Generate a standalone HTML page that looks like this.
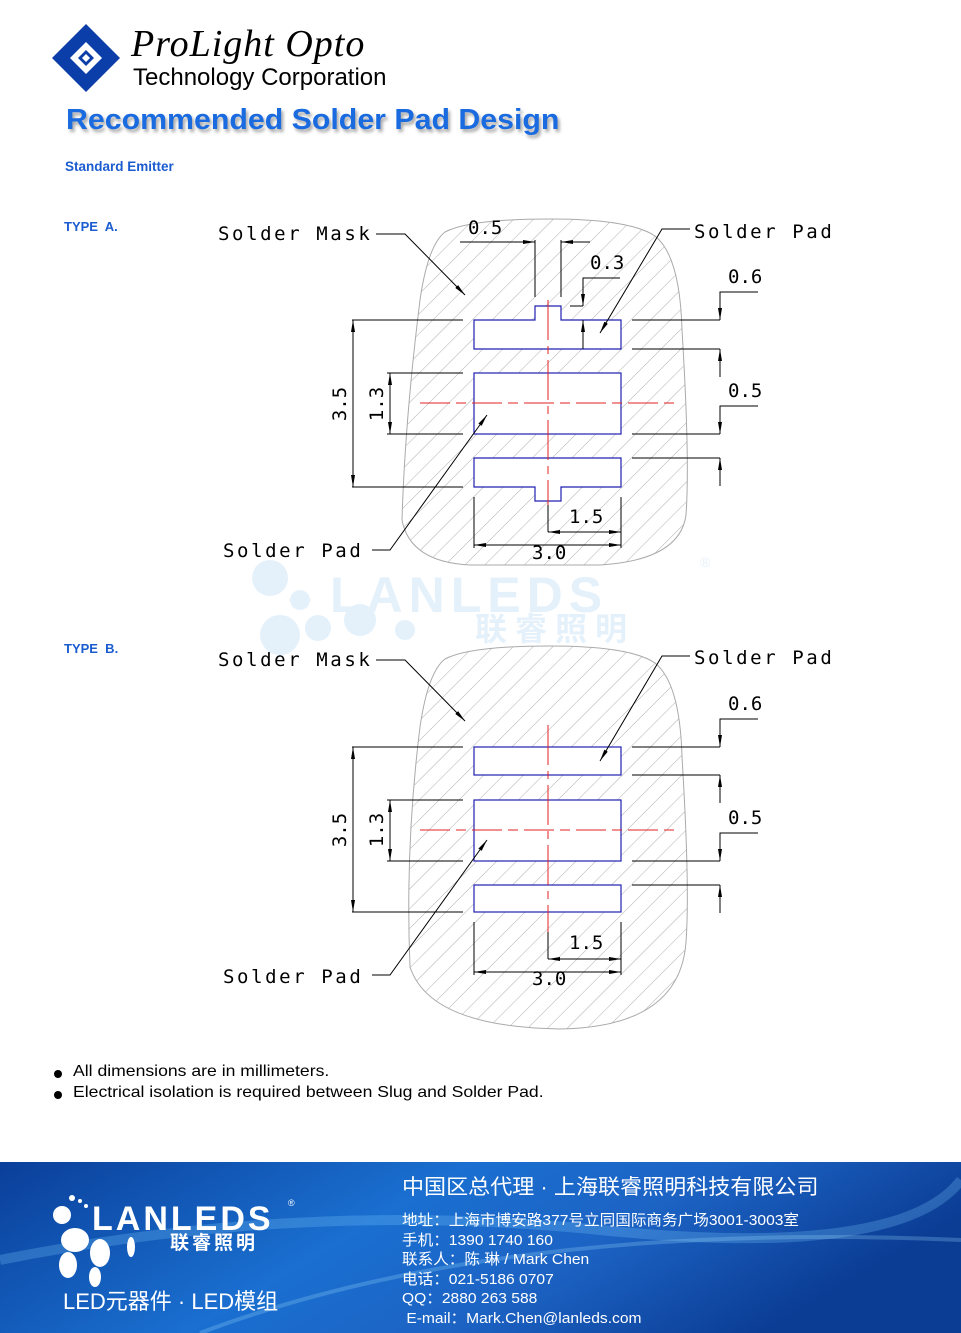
<!DOCTYPE html>
<html><head><meta charset="utf-8"><style>
html,body{margin:0;padding:0;background:#fff}
body{width:961px;height:1333px;position:relative;overflow:hidden;font-family:"Liberation Sans","Noto Sans CJK SC",sans-serif}
.abs{position:absolute;white-space:nowrap}
</style></head><body>
<svg width="961" height="1333" style="position:absolute;left:0;top:0" xmlns="http://www.w3.org/2000/svg">
<defs>
<pattern id="h" width="14" height="14" patternUnits="userSpaceOnUse" patternTransform="rotate(45)">
<line x1="0" y1="0" x2="0" y2="14" stroke="#9a9a9a" stroke-width="0.8"/>
</pattern>
<linearGradient id="fg" x1="0" y1="0" x2="1" y2="0.3">
<stop offset="0" stop-color="#0a3f9a"/><stop offset="0.45" stop-color="#1a6fd0"/><stop offset="0.7" stop-color="#1c63c4"/><stop offset="1" stop-color="#0b3d95"/>
</linearGradient>
<marker id="a" viewBox="0 0 12 6" refX="12" refY="3" markerWidth="12" markerHeight="6" markerUnits="userSpaceOnUse" orient="auto"><path d="M0,1 L12,3 L0,5 Z" fill="#000"/></marker>
<marker id="b" viewBox="0 0 12 6" refX="0" refY="3" markerWidth="12" markerHeight="6" markerUnits="userSpaceOnUse" orient="auto"><path d="M12,1 L0,3 L12,5 Z" fill="#000"/></marker>
</defs>

<g>
<polygon points="52,58 86,24 120,58 86,92" fill="#0b3ea8"/>
<polygon points="70,58 86,42 102,58 86,74" fill="#fff"/>
<polygon points="78,58 86,50 94,58 86,66" fill="#0b3ea8"/>
<polygon points="82,58 86,54 90,58 86,62" fill="#fff"/>
<polygon points="82,33 111,62 86,86 57,57" fill="none" stroke="#0b3ea8" stroke-width="1"/>
</g>

<g opacity="0.12" fill="#2a90e0">
<circle cx="270" cy="578" r="18"/><circle cx="300" cy="600" r="10"/><circle cx="318" cy="628" r="13"/><circle cx="280" cy="635" r="20"/><circle cx="360" cy="620" r="16"/><circle cx="405" cy="630" r="10"/>
<text x="330" y="612" font-family="Liberation Sans" font-weight="bold" font-size="50" letter-spacing="6">LANLEDS</text>
<text x="475" y="640" font-family="Noto Sans CJK SC" font-weight="bold" font-size="32" letter-spacing="8">联睿照明</text>
<text x="700" y="567" font-size="14">®</text>
</g>

<g id="A">
<path d="M445,232 Q470,219 550,219 Q630,219 655,236 Q680,256 682,330 Q690,460 686,515 Q680,560 600,565 L470,565 Q410,562 402,520 Q405,420 420,300 Q428,245 445,232 Z" fill="url(#h)" stroke="#aaa" stroke-width="1"/>
<g fill="#fff" stroke="#2020b0" stroke-width="1.2">
<path d="M474,320 H535 V306 H561 V320 H621 V349 H474 Z"/>
<rect x="474" y="373" width="147" height="61"/>
<path d="M474,458 H621 V487 H561 V501 H535 V487 H474 Z"/>
</g>
<g stroke="#e02020" stroke-width="1">
<line x1="548" y1="300" x2="548" y2="505" stroke-dasharray="40,6,8,6"/>
<line x1="420" y1="403" x2="675" y2="403" stroke-dasharray="30,6,10,6"/>
</g>
<g stroke="#000" stroke-width="1" fill="none">
<line x1="352" y1="320" x2="463" y2="320"/><line x1="352" y1="487" x2="463" y2="487"/>
<line x1="353" y1="320" x2="353" y2="487" marker-start="url(#b)" marker-end="url(#a)"/>
<line x1="387" y1="373" x2="463" y2="373"/><line x1="387" y1="434" x2="463" y2="434"/>
<line x1="390" y1="373" x2="390" y2="434" marker-start="url(#b)" marker-end="url(#a)"/>
<line x1="632" y1="320" x2="720" y2="320"/><line x1="632" y1="349" x2="720" y2="349"/>
<line x1="632" y1="434" x2="720" y2="434"/><line x1="632" y1="458" x2="720" y2="458"/>
<polyline points="758,292 720,292 720,320" marker-end="url(#a)"/>
<line x1="720" y1="377" x2="720" y2="349" marker-end="url(#a)"/>
<polyline points="758,406 720,406 720,434" marker-end="url(#a)"/>
<line x1="720" y1="486" x2="720" y2="458" marker-end="url(#a)"/>
<line x1="474" y1="497" x2="474" y2="548"/><line x1="621" y1="497" x2="621" y2="548"/>
<line x1="474" y1="545" x2="621" y2="545" marker-start="url(#b)" marker-end="url(#a)"/>
<line x1="548" y1="505" x2="548" y2="532"/>
<line x1="548" y1="532" x2="621" y2="532" marker-start="url(#b)" marker-end="url(#a)"/>
<line x1="535" y1="240" x2="535" y2="297"/><line x1="561" y1="240" x2="561" y2="297"/>
<line x1="460" y1="242" x2="535" y2="242" marker-end="url(#a)"/>
<line x1="590" y1="242" x2="561" y2="242" marker-end="url(#a)"/>
<polyline points="620,278 583,278 583,306" marker-end="url(#a)"/>
<line x1="570" y1="306" x2="583" y2="306"/>
<line x1="583" y1="349" x2="583" y2="320" marker-end="url(#a)"/>
<polyline points="376,234 405,234 465,295" marker-end="url(#a)"/>
<polyline points="690,229 662,229 600,333" marker-end="url(#a)"/>
<polyline points="372,550 390,550 487,415" marker-end="url(#a)"/>
</g>
<g font-family="DejaVu Sans Mono,Liberation Mono,monospace" font-size="19" fill="#000" font-weight="200">
<text x="218" y="240" letter-spacing="2.6">Solder Mask</text>
<text x="694" y="238" letter-spacing="2.6">Solder Pad</text>
<text x="223" y="557" letter-spacing="2.6">Solder Pad</text>
<text x="468" y="234">0.5</text>
<text x="590" y="269">0.3</text>
<text x="728" y="283">0.6</text>
<text x="728" y="397">0.5</text>
<text x="569" y="523">1.5</text>
<text x="532" y="559">3.0</text>
<text transform="translate(346,404) rotate(-90)" text-anchor="middle">3.5</text>
<text transform="translate(383,404) rotate(-90)" text-anchor="middle">1.3</text>
</g>
</g>

<g transform="translate(0,427)">
<path d="M445,232 Q470,219 550,219 Q630,219 655,236 Q680,256 682,330 Q690,460 686,515 Q680,600 560,602 Q430,600 410,540 Q405,420 420,300 Q428,245 445,232 Z" fill="url(#h)" stroke="#aaa" stroke-width="1"/>
<g fill="#fff" stroke="#2020b0" stroke-width="1.2">
<rect x="474" y="320" width="147" height="28"/>
<rect x="474" y="373" width="147" height="61"/>
<rect x="474" y="458" width="147" height="27"/>
</g>
<g stroke="#e02020" stroke-width="1">
<line x1="548" y1="298" x2="548" y2="505" stroke-dasharray="40,6,8,6"/>
<line x1="420" y1="403" x2="675" y2="403" stroke-dasharray="30,6,10,6"/>
</g>
<g stroke="#000" stroke-width="1" fill="none">
<line x1="352" y1="320" x2="463" y2="320"/><line x1="352" y1="485" x2="463" y2="485"/>
<line x1="353" y1="320" x2="353" y2="485" marker-start="url(#b)" marker-end="url(#a)"/>
<line x1="387" y1="373" x2="463" y2="373"/><line x1="387" y1="434" x2="463" y2="434"/>
<line x1="390" y1="373" x2="390" y2="434" marker-start="url(#b)" marker-end="url(#a)"/>
<line x1="632" y1="320" x2="720" y2="320"/><line x1="632" y1="348" x2="720" y2="348"/>
<line x1="632" y1="434" x2="720" y2="434"/><line x1="632" y1="458" x2="720" y2="458"/>
<polyline points="758,292 720,292 720,320" marker-end="url(#a)"/>
<line x1="720" y1="376" x2="720" y2="348" marker-end="url(#a)"/>
<polyline points="758,406 720,406 720,434" marker-end="url(#a)"/>
<line x1="720" y1="486" x2="720" y2="458" marker-end="url(#a)"/>
<line x1="474" y1="495" x2="474" y2="548"/><line x1="621" y1="495" x2="621" y2="548"/>
<line x1="474" y1="545" x2="621" y2="545" marker-start="url(#b)" marker-end="url(#a)"/>
<line x1="548" y1="505" x2="548" y2="532"/>
<line x1="548" y1="532" x2="621" y2="532" marker-start="url(#b)" marker-end="url(#a)"/>
<polyline points="376,233 405,233 465,294" marker-end="url(#a)"/>
<polyline points="690,229 662,229 600,334" marker-end="url(#a)"/>
<polyline points="372,548 390,548 487,413" marker-end="url(#a)"/>
</g>
<g font-family="DejaVu Sans Mono,Liberation Mono,monospace" font-size="19" fill="#000" font-weight="200">
<text x="218" y="239" letter-spacing="2.6">Solder Mask</text>
<text x="694" y="237" letter-spacing="2.6">Solder Pad</text>
<text x="223" y="556" letter-spacing="2.6">Solder Pad</text>
<text x="728" y="283">0.6</text>
<text x="728" y="397">0.5</text>
<text x="569" y="522">1.5</text>
<text x="532" y="558">3.0</text>
<text transform="translate(346,403) rotate(-90)" text-anchor="middle">3.5</text>
<text transform="translate(383,403) rotate(-90)" text-anchor="middle">1.3</text>
</g>
</g>

<circle cx="58" cy="1074" r="4" fill="#000"/>
<circle cx="58" cy="1095" r="4" fill="#000"/>

<rect x="0" y="1162" width="961" height="171" fill="url(#fg)"/>
<path d="M0,1260 Q300,1200 600,1230 T961,1180" stroke="#7fd0ff" stroke-width="10" fill="none" opacity="0.25"/>
<path d="M200,1333 Q500,1220 961,1240" stroke="#9fe0ff" stroke-width="4" fill="none" opacity="0.25"/>
<g fill="#fff">
<circle cx="62" cy="1215" r="9"/><circle cx="72" cy="1198" r="3"/><circle cx="80" cy="1201" r="2"/><circle cx="86" cy="1206" r="2"/>
<ellipse cx="75" cy="1240" rx="14" ry="12"/><ellipse cx="100" cy="1253" rx="10" ry="14"/><ellipse cx="68" cy="1265" rx="9" ry="13"/>
<ellipse cx="95" cy="1277" rx="6" ry="10"/><ellipse cx="131" cy="1247" rx="4" ry="10"/>
</g>
</svg>

<div class="abs" style="left:131px;top:22px;font-family:'Liberation Serif',serif;font-style:italic;font-size:38px;color:#000;letter-spacing:1px">ProLight Opto</div>
<div class="abs" style="left:133px;top:64px;font-size:24px;color:#000">Technology Corporation</div>
<div class="abs" style="left:66px;top:104px;font-size:29px;font-weight:bold;color:#1a6be0;text-shadow:2px 3px 3px rgba(0,0,0,0.35);transform:scaleX(1.045);transform-origin:left">Recommended Solder Pad Design</div>
<div class="abs" style="left:65px;top:159px;font-size:13.5px;font-weight:bold;color:#1a5cd0">Standard Emitter</div>
<div class="abs" style="left:64px;top:219px;font-size:13px;font-weight:bold;color:#1a5cd0">TYPE&nbsp; A.</div>
<div class="abs" style="left:64px;top:641px;font-size:13px;font-weight:bold;color:#1a5cd0">TYPE&nbsp; B.</div>
<div class="abs" style="left:73px;top:1063px;font-size:16px;color:#000;transform:scaleX(1.1);transform-origin:left">All dimensions are in millimeters.</div>
<div class="abs" style="left:73px;top:1084px;font-size:16px;color:#000;transform:scaleX(1.1);transform-origin:left">Electrical isolation is required between Slug and Solder Pad.</div>

<div class="abs" style="left:92px;top:1200px;font-size:34px;font-weight:bold;color:#fff;letter-spacing:3px">LANLEDS</div>
<div class="abs" style="left:288px;top:1198px;font-size:9px;color:#fff">®</div>
<div class="abs" style="left:170px;top:1228px;font-size:19px;font-weight:bold;color:#fff;letter-spacing:3px">联睿照明</div>
<div class="abs" style="left:63px;top:1284px;font-size:22px;color:#fff">LED元器件 · LED模组</div>
<div class="abs" style="left:402px;top:1171px;font-size:21px;color:#fff;transform:scaleX(1.05);transform-origin:left">中国区总代理 · 上海联睿照明科技有限公司</div>
<div class="abs" style="left:402px;top:1211px;font-size:15px;line-height:19.6px;color:#fff;transform:scaleX(1.04);transform-origin:left">地址：上海市博安路377号立同国际商务广场3001-3003室<br>手机：1390 1740 160<br>联系人：陈 琳 / Mark Chen<br>电话：021-5186 0707<br>QQ：2880 263 588<br>&nbsp;E-mail：Mark.Chen@lanleds.com</div>
</body></html>
